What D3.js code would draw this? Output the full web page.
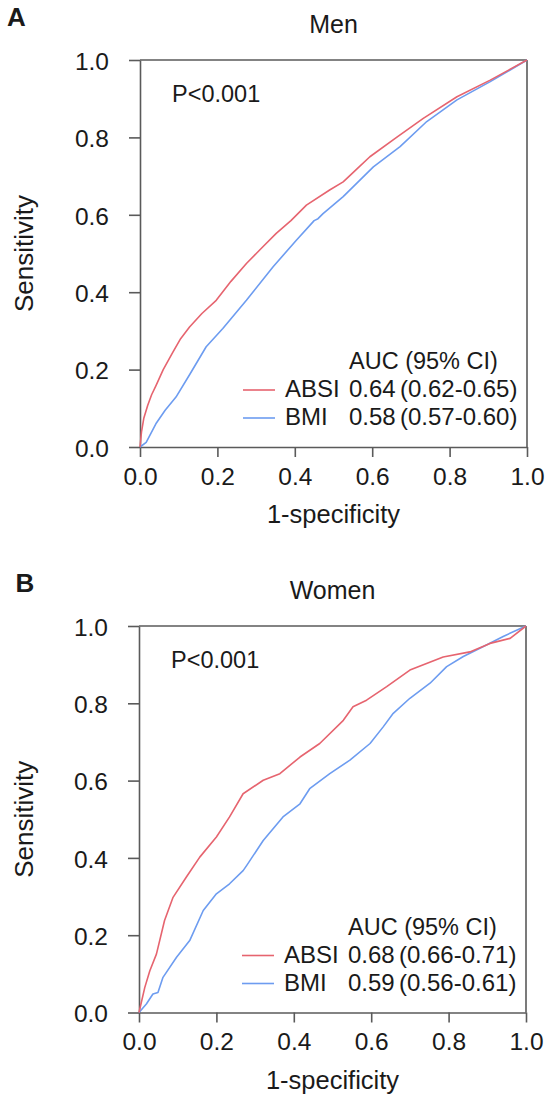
<!DOCTYPE html>
<html>
<head>
<meta charset="utf-8">
<script src="https://cdn.jsdelivr.net/npm/d3@7"></script>
<style>
  html, body { margin: 0; padding: 0; background: #fff; }
  svg text { font-family: "Liberation Sans", Arial, sans-serif; fill: #1a1a1a; }
</style>
</head>
<body>
<svg id="chart" width="550" height="1096"></svg>
<script>
// ---- Data ----
const axisTicks = [0, 0.2, 0.4, 0.6, 0.8, 1.0];
const panelTitles = ["Men", "Women"];
const panelLetters = ["A", "B"];
const seriesNames = ["ABSI", "BMI"];
const pValueText = "P<0.001";

// Men ROC points [1-specificity, sensitivity]
const menABSI = [[0,0],[0.004,0.04],[0.01,0.075],[0.02,0.108],[0.03,0.135],[0.041,0.158],[0.06,0.2],
  [0.085,0.245],[0.105,0.28],[0.128,0.31],[0.16,0.345],[0.197,0.379],[0.235,0.428],[0.275,0.474],
  [0.315,0.515],[0.352,0.552],[0.39,0.585],[0.43,0.625],[0.49,0.664],[0.525,0.685],[0.56,0.718],
  [0.594,0.75],[0.663,0.80],[0.732,0.849],[0.819,0.905],[0.905,0.948],[1,1]];
const menBMI = [[0,0],[0.016,0.012],[0.041,0.06],[0.065,0.095],[0.093,0.129],[0.13,0.19],[0.171,0.259],
  [0.214,0.306],[0.275,0.379],[0.344,0.466],[0.404,0.534],[0.45,0.585],[0.46,0.59],[0.473,0.603],
  [0.525,0.647],[0.603,0.724],[0.672,0.776],[0.741,0.841],[0.819,0.897],[0.905,0.944],[1,1]];
// Women ROC points
const womenABSI = [[0,0],[0.015,0.065],[0.028,0.108],[0.045,0.151],[0.066,0.238],[0.088,0.298],
  [0.122,0.35],[0.157,0.402],[0.2,0.454],[0.234,0.506],[0.269,0.566],[0.321,0.601],[0.364,0.618],
  [0.416,0.661],[0.467,0.696],[0.528,0.756],[0.553,0.791],[0.588,0.808],[0.64,0.843],[0.7,0.886],
  [0.786,0.92],[0.855,0.933],[0.907,0.955],[0.959,0.968],[1,1]];
const womenBMI = [[0,0],[0.019,0.022],[0.036,0.048],[0.049,0.052],[0.062,0.091],[0.097,0.143],
  [0.131,0.186],[0.166,0.264],[0.2,0.307],[0.234,0.333],[0.269,0.367],[0.278,0.38],[0.321,0.445],
  [0.372,0.506],[0.416,0.54],[0.441,0.579],[0.493,0.618],[0.545,0.653],[0.597,0.696],[0.631,0.739],
  [0.657,0.774],[0.7,0.813],[0.752,0.852],[0.795,0.895],[0.838,0.921],[0.89,0.947],[0.941,0.973],[1,1]];

const menAUC = ["0.64", "0.58"];
const menCI = ["(0.62-0.65)", "(0.57-0.60)"];
const womenAUC = ["0.68", "0.59"];
const womenCI = ["(0.66-0.71)", "(0.56-0.61)"];

// ---- Styles / layout ----
const colors = ["#e6646f", "#6d9cf0"];
const axisColor = "#5a5a5a";
const fontSize = 24;

const panels = [
  { left: 140, top: 60, w: 387, h: 387, series: [menABSI, menBMI], auc: menAUC, ci: menCI,
    letterX: 7 },
  { left: 139, top: 626, w: 387, h: 386.5, series: [womenABSI, womenBMI], auc: womenAUC, ci: womenCI,
    letterX: 15.5 }
];

const svg = d3.select("#chart");

panels.forEach((p, i) => {
  const x = d3.scaleLinear().domain([0, 1]).range([p.left, p.left + p.w]);
  const y = d3.scaleLinear().domain([0, 1]).range([p.top + p.h, p.top]);
  const g = svg.append("g");

  g.append("text").attr("x", p.letterX).attr("y", p.top - 34)
    .attr("font-size", 26).attr("font-weight", "bold").text(panelLetters[i]);
  g.append("text").attr("x", x(0.5)).attr("y", p.top - 27)
    .attr("text-anchor", "middle").attr("font-size", 25).text(panelTitles[i]);

  const xAxis = d3.axisBottom(x).tickValues(axisTicks).tickFormat(d3.format(".1f"))
    .tickSize(10).tickSizeOuter(0).tickPadding(10);
  const yAxis = d3.axisLeft(y).tickValues(axisTicks).tickFormat(d3.format(".1f"))
    .tickSize(11).tickSizeOuter(0).tickPadding(20);

  const gx = g.append("g").attr("transform", `translate(0,${p.top + p.h})`).call(xAxis);
  const gy = g.append("g").attr("transform", `translate(${p.left},0)`).call(yAxis);
  [gx, gy].forEach(a => {
    a.selectAll("path.domain").attr("stroke", axisColor).attr("stroke-width", 1.6);
    a.selectAll(".tick line").attr("stroke", axisColor).attr("stroke-width", 1.6);
    a.selectAll(".tick text").attr("font-size", 24.5)
      .attr("font-family", '"Liberation Sans", Arial, sans-serif').attr("fill", "#1a1a1a");
  });
  gx.selectAll(".tick text").attr("dy", "0.72em");
  gy.selectAll(".tick text").attr("dy", "0.38em");

  g.append("line").attr("x1", x(0)).attr("x2", x(1)).attr("y1", y(1)).attr("y2", y(1))
    .attr("stroke", axisColor).attr("stroke-width", 1.6);
  g.append("line").attr("x1", x(1)).attr("x2", x(1)).attr("y1", y(1)).attr("y2", y(0))
    .attr("stroke", axisColor).attr("stroke-width", 1.6);

  g.append("text").attr("x", x(0.5)).attr("y", p.top + p.h + 76)
    .attr("text-anchor", "middle").attr("font-size", 25.5).text("1-specificity");
  g.append("text")
    .attr("transform", `translate(33,${y(0.5)}) rotate(-90)`)
    .attr("text-anchor", "middle").attr("font-size", 26).text("Sensitivity");

  const line = d3.line().x(d => x(d[0])).y(d => y(d[1]));
  [1, 0].forEach(k => {
    g.append("path").datum(p.series[k]).attr("d", line)
      .attr("fill", "none").attr("stroke", colors[k]).attr("stroke-width", 1.6)
      .attr("stroke-linejoin", "round");
  });

  g.append("text").attr("x", p.left + 32).attr("y", p.top + 42)
    .attr("font-size", 23.5).text(pValueText);

  const base = p.top + p.h;
  g.append("text").attr("x", p.left + 209).attr("y", base - 78)
    .attr("font-size", 23.5).text("AUC (95% CI)");
  seriesNames.forEach((name, k) => {
    const by = base - 50 + k * 28;
    g.append("line").attr("x1", p.left + 103).attr("x2", p.left + 135)
      .attr("y1", by - 7).attr("y2", by - 7)
      .attr("stroke", colors[k]).attr("stroke-width", 1.6);
    g.append("text").attr("x", p.left + 145).attr("y", by).attr("font-size", 24).text(name);
    g.append("text").attr("x", p.left + 209).attr("y", by).attr("font-size", 24).text(p.auc[k]);
    g.append("text").attr("x", p.left + 260).attr("y", by).attr("font-size", 24).text(p.ci[k]);
  });
});
</script>
</body>
</html>
